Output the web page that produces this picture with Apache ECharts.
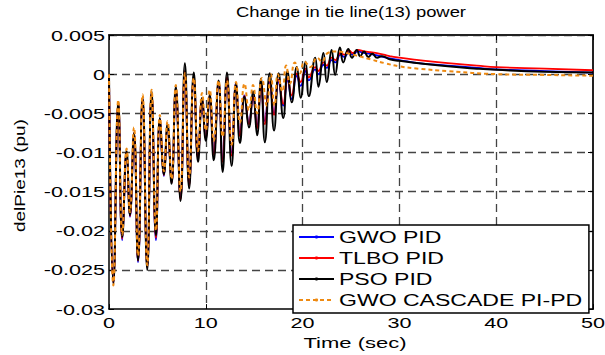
<!DOCTYPE html>
<html>
<head>
<meta charset="utf-8">
<script src="https://cdn.jsdelivr.net/npm/echarts@6.0.0/dist/echarts.min.js"></script>
<style>
  html, body { margin: 0; padding: 0; background: #fff; }
  #chart { width: 605px; height: 355px; }
</style>
</head>
<body>
<div id="chart"></div>
<script>
// Tie-line (13) power deviation after a load step, four controller tunings.
const seriesNames = ['GWO PID', 'TLBO PID', 'PSO PID', 'GWO CASCADE PI-PD'];
const xTickValues = [0, 10, 20, 30, 40, 50];
const yTickLabels = ['-0.03', '-0.025', '-0.02', '-0.015', '-0.01', '-0.005', '0', '0.005'];

// [time (s), delPtie13 (pu)] – peaks and troughs of each response
const gwoPid = [
  [0, 0], [0.45, -0.0266], [0.96, -0.0038], [1.37, -0.0212], [1.82, -0.0100], [2.16, -0.0182],
  [2.58, -0.0076], [3.00, -0.0240], [3.47, -0.0032], [3.95, -0.0246], [4.40, -0.0025], [4.85, -0.0212],
  [5.26, -0.0058], [5.67, -0.0130], [6.05, -0.0066], [6.46, -0.0138], [6.90, -0.0020], [7.39, -0.0158],
  [7.84, 0.0000], [8.28, -0.0140], [8.76, -0.0006], [9.20, -0.0106], [9.62, -0.0032], [10.00, -0.0082],
  [10.40, -0.0028], [10.82, -0.0100], [11.32, -0.0012], [11.74, -0.0108], [12.19, -0.0006], [12.67, -0.0100],
  [13.12, -0.0011], [13.53, -0.0076], [14.00, -0.0027], [14.46, -0.0062], [14.88, -0.0030], [15.30, -0.0066],
  [15.70, -0.0014], [16.10, -0.0060], [16.60, -0.0010], [17.05, -0.0050], [17.52, -0.0010], [18.00, -0.0040],
  [18.45, -0.0008], [18.87, -0.0032], [19.40, -0.0002], [19.80, -0.0015], [20.30, 0.0004], [20.65, -0.0008],
  [21.30, 0.0006], [21.64, 0.0000], [22.15, 0.0012], [22.50, 0.0008], [23.00, 0.0018], [23.40, 0.0015],
  [23.90, 0.0025], [24.30, 0.0022], [24.80, 0.0028], [25.20, 0.0025], [25.70, 0.0029], [26.40, 0.0027],
  [27.00, 0.0026], [28.00, 0.0023], [29.00, 0.0020], [30.00, 0.0018], [32.00, 0.0014], [35.00, 0.0011],
  [38.00, 0.0008], [40.00, 0.0006], [45.00, 0.0004], [50.00, 0.0002]
];
const tlboPid = [
  [0, 0], [0.45, -0.0267], [0.96, -0.0037], [1.37, -0.0210], [1.82, -0.0099], [2.16, -0.0181],
  [2.58, -0.0075], [3.00, -0.0238], [3.47, -0.0031], [3.95, -0.0247], [4.40, -0.0024], [4.85, -0.0209],
  [5.26, -0.0057], [5.67, -0.0129], [6.05, -0.0065], [6.46, -0.0139], [6.90, -0.0018], [7.39, -0.0160],
  [7.84, 0.0004], [8.28, -0.0142], [8.76, -0.0004], [9.20, -0.0108], [9.62, -0.0031], [10.00, -0.0083],
  [10.40, -0.0027], [10.82, -0.0103], [11.32, -0.0010], [11.74, -0.0112], [12.19, -0.0004], [12.67, -0.0104],
  [13.12, -0.0012], [13.53, -0.0079], [14.00, -0.0028], [14.46, -0.0064], [14.88, -0.0028], [15.30, -0.0069],
  [15.70, -0.0012], [16.10, -0.0064], [16.60, -0.0008], [17.05, -0.0052], [17.52, -0.0007], [18.00, -0.0038],
  [18.45, -0.0005], [18.87, -0.0027], [19.40, 0.0001], [19.80, -0.0010], [20.30, 0.0007], [20.65, -0.0004],
  [21.30, 0.0009], [21.64, 0.0004], [22.15, 0.0015], [22.50, 0.0011], [23.00, 0.0021], [23.40, 0.0018],
  [23.90, 0.0027], [24.30, 0.0025], [24.80, 0.0030], [25.20, 0.0027], [25.70, 0.0031], [26.40, 0.0029],
  [27.00, 0.0028], [28.00, 0.0026], [29.00, 0.0023], [30.00, 0.0021], [32.00, 0.0018], [35.00, 0.0014],
  [38.00, 0.0011], [40.00, 0.0009], [45.00, 0.0007], [50.00, 0.0005]
];
const psoPid = [
  [0, 0], [0.45, -0.0268], [0.96, -0.0036], [1.37, -0.0208], [1.82, -0.0098], [2.16, -0.0180],
  [2.58, -0.0075], [3.00, -0.0238], [3.47, -0.0030], [3.95, -0.0250], [4.40, -0.0022], [4.85, -0.0206],
  [5.26, -0.0056], [5.67, -0.0128], [6.05, -0.0064], [6.46, -0.0140], [6.90, -0.0016], [7.39, -0.0162],
  [7.84, 0.0014], [8.28, -0.0146], [8.76, 0.0002], [9.20, -0.0112], [9.62, -0.0030], [10.00, -0.0085],
  [10.40, -0.0026], [10.82, -0.0110], [11.32, -0.0008], [11.74, -0.0125], [12.19, 0.0002], [12.67, -0.0117],
  [13.12, -0.0012], [13.53, -0.0088], [14.00, -0.0029], [14.46, -0.0068], [14.88, -0.0022], [15.30, -0.0078],
  [15.70, -0.0006], [16.10, -0.0087], [16.60, 0.0001], [17.05, -0.0072], [17.52, 0.0001], [18.00, -0.0056],
  [18.45, 0.0004], [18.87, -0.0036], [19.40, 0.0009], [19.80, -0.0030], [20.30, 0.0016], [20.65, -0.0028],
  [21.30, 0.0021], [21.64, -0.0016], [22.15, 0.0027], [22.50, -0.0010], [23.00, 0.0031], [23.36, -0.0001],
  [23.86, 0.0034], [24.20, 0.0015], [24.72, 0.0032], [25.10, 0.0021], [25.60, 0.0031], [25.95, 0.0023],
  [26.35, 0.0029], [26.80, 0.0022], [27.20, 0.0026], [27.70, 0.0021], [28.20, 0.0023], [29.00, 0.0019],
  [30.00, 0.0017], [32.00, 0.0014], [35.00, 0.0010], [38.00, 0.0007], [40.00, 0.00055], [45.00, 0.0003],
  [50.00, 0.0002]
];
const gwoCascade = [
  [0, 0], [0.45, -0.0270], [0.96, -0.0033], [1.37, -0.0205], [1.82, -0.0095], [2.16, -0.0176],
  [2.58, -0.0068], [3.00, -0.0232], [3.47, -0.0026], [3.95, -0.0244], [4.40, -0.0020], [4.85, -0.0200],
  [5.26, -0.0052], [5.67, -0.0124], [6.05, -0.0060], [6.46, -0.0134], [6.90, -0.0014], [7.39, -0.0150],
  [7.84, 0.0001], [8.28, -0.0132], [8.76, -0.0005], [9.20, -0.0098], [9.62, -0.0024], [10.00, -0.0072],
  [10.40, -0.0020], [10.82, -0.0085], [11.32, -0.0008], [11.74, -0.0080], [12.19, -0.0008], [12.67, -0.0090],
  [13.12, -0.0010], [13.53, -0.0062], [14.00, -0.0012], [14.46, -0.0046], [14.88, -0.0014], [15.30, -0.0050],
  [15.80, -0.0005], [16.30, -0.0040], [16.70, 0.0000], [17.10, -0.0040], [17.45, 0.0000], [17.90, -0.0022],
  [18.30, 0.0011], [18.70, -0.0012], [19.20, 0.0015], [19.70, 0.0001], [20.20, 0.0016], [20.80, 0.0009],
  [21.50, 0.0021], [22.00, 0.0016], [22.60, 0.0027], [23.50, 0.0029], [24.50, 0.0027], [25.50, 0.0024],
  [27.00, 0.0019], [28.50, 0.0014], [30.00, 0.0010], [32.00, 0.0007], [35.00, 0.0004], [40.00, 0.0000],
  [45.00, -0.0001], [50.00, -0.0002]
];

const FONT = "'Liberation Sans', Arial, Helvetica, sans-serif";
const X_MIN = xTickValues[0], X_MAX = xTickValues[xTickValues.length - 1], X_STEP = xTickValues[1] - xTickValues[0];
const Y_MIN = Number(yTickLabels[0]), Y_MAX = Number(yTickLabels[yTickLabels.length - 1]);
const Y_STEP = Number(yTickLabels[1]) - Number(yTickLabels[0]);

const gridDash = { color: '#444', width: 1.3, type: [8, 5] };
const yLabelFor = v => yTickLabels[Math.round((v - Y_MIN) / Y_STEP)] ?? '';

const chart = echarts.init(document.getElementById('chart'), null, { renderer: 'svg' });

const option = {
  animation: false,
  backgroundColor: '#fff',
  title: {
    text: 'Change in tie line(13) power',
    left: 351, top: 5, padding: 0, textAlign: 'center',
    textStyle: { fontFamily: FONT, fontSize: 14, fontWeight: 'normal', color: '#000' }
  },
  grid: { left: 109, right: 12, top: 35, bottom: 40, containLabel: false },
  legend: {
    orient: 'vertical', left: 293, top: 225,
    padding: [4, 81, 5, 5], itemGap: 5, itemWidth: 35, itemHeight: 4,
    backgroundColor: '#fff', borderColor: '#000', borderWidth: 1.5, borderRadius: 0,
    textStyle: { fontFamily: FONT, fontSize: 16, lineHeight: 16, color: '#000' },
    data: seriesNames
  },
  xAxis: [
    {
      type: 'value', min: X_MIN, max: X_MAX, interval: X_STEP,
      name: 'Time (sec)', nameLocation: 'middle', nameGap: 22,
      nameTextStyle: { fontFamily: FONT, fontSize: 15, color: '#000', padding: [0, 0, 0, 8] },
      axisLine: { onZero: false, lineStyle: { color: '#000', width: 1.5 } },
      axisTick: { inside: true, length: 5, lineStyle: { color: '#000' } },
      axisLabel: { fontFamily: FONT, fontSize: 15, color: '#000', margin: 6 },
      splitLine: { show: true, showMinLine: false, showMaxLine: false, lineStyle: gridDash }
    },
    {
      type: 'value', position: 'top', min: X_MIN, max: X_MAX, interval: X_STEP,
      axisLine: { onZero: false, lineStyle: { color: '#222', width: 2 } },
      axisTick: { inside: true, length: 5, lineStyle: { color: '#000' } },
      axisLabel: { show: false }, splitLine: { show: false }
    }
  ],
  yAxis: [
    {
      type: 'value', min: Y_MIN, max: Y_MAX, interval: Y_STEP,
      name: 'delPie13 (pu)', nameLocation: 'middle', nameRotate: 90, nameGap: 82,
      nameTextStyle: { fontFamily: FONT, fontSize: 15, color: '#000', padding: [0, 7, 0, 0] },
      axisLine: { onZero: false, lineStyle: { color: '#000', width: 1.5 } },
      axisTick: { inside: true, length: 5, lineStyle: { color: '#000' } },
      axisLabel: { fontFamily: FONT, fontSize: 15, color: '#000', margin: 4, formatter: yLabelFor },
      splitLine: { show: true, showMinLine: false, showMaxLine: false, lineStyle: gridDash }
    },
    {
      type: 'value', position: 'right', min: Y_MIN, max: Y_MAX, interval: Y_STEP,
      axisLine: { onZero: false, lineStyle: { color: '#222', width: 2 } },
      axisTick: { inside: true, length: 5, lineStyle: { color: '#000' } },
      axisLabel: { show: false }, splitLine: { show: false }
    }
  ],
  series: [
    {
      name: seriesNames[0], type: 'line', data: gwoPid, smooth: true,
      symbol: 'circle', symbolSize: 4, showSymbol: false,
      lineStyle: { color: '#0000ff', width: 1.8 }, itemStyle: { color: '#0000ff' }, z: 2
    },
    {
      name: seriesNames[1], type: 'line', data: tlboPid, smooth: true,
      symbol: 'circle', symbolSize: 4, showSymbol: false,
      lineStyle: { color: '#ff0000', width: 1.8 }, itemStyle: { color: '#ff0000' }, z: 3
    },
    {
      name: seriesNames[2], type: 'line', data: psoPid, smooth: true,
      symbol: 'circle', symbolSize: 4, showSymbol: false,
      lineStyle: { color: '#000000', width: 2 }, itemStyle: { color: '#000000' }, z: 4
    },
    {
      name: seriesNames[3], type: 'line', data: gwoCascade, smooth: true,
      symbol: 'none',
      lineStyle: { color: '#ee8a12', width: 2, type: [4, 3] }, itemStyle: { color: '#ee8a12' }, z: 5
    }
  ]
};

chart.setOption(option);

// The labels use a wide-set face: stretch each text run along its own direction.
const fixedTextWidths = { 'Change in tie line(13) power': 230, 'Time (sec)': 103, 'delPie13 (pu)': 113 };
const WIDE = 1.44;
function widenText() {
  document.querySelectorAll('#chart svg text').forEach(t => {
    const s = t.textContent;
    if (!s || !s.trim()) return;
    let nat = parseFloat(t.getAttribute('data-w'));
    if (!nat) {
      nat = t.getComputedTextLength();
      t.setAttribute('data-w', nat);
    }
    const target = fixedTextWidths[s] || nat * WIDE;
    t.setAttribute('textLength', target.toFixed(1));
    t.setAttribute('lengthAdjust', 'spacingAndGlyphs');
  });
}
chart.on('finished', widenText);
widenText();
</script>
</body>
</html>
